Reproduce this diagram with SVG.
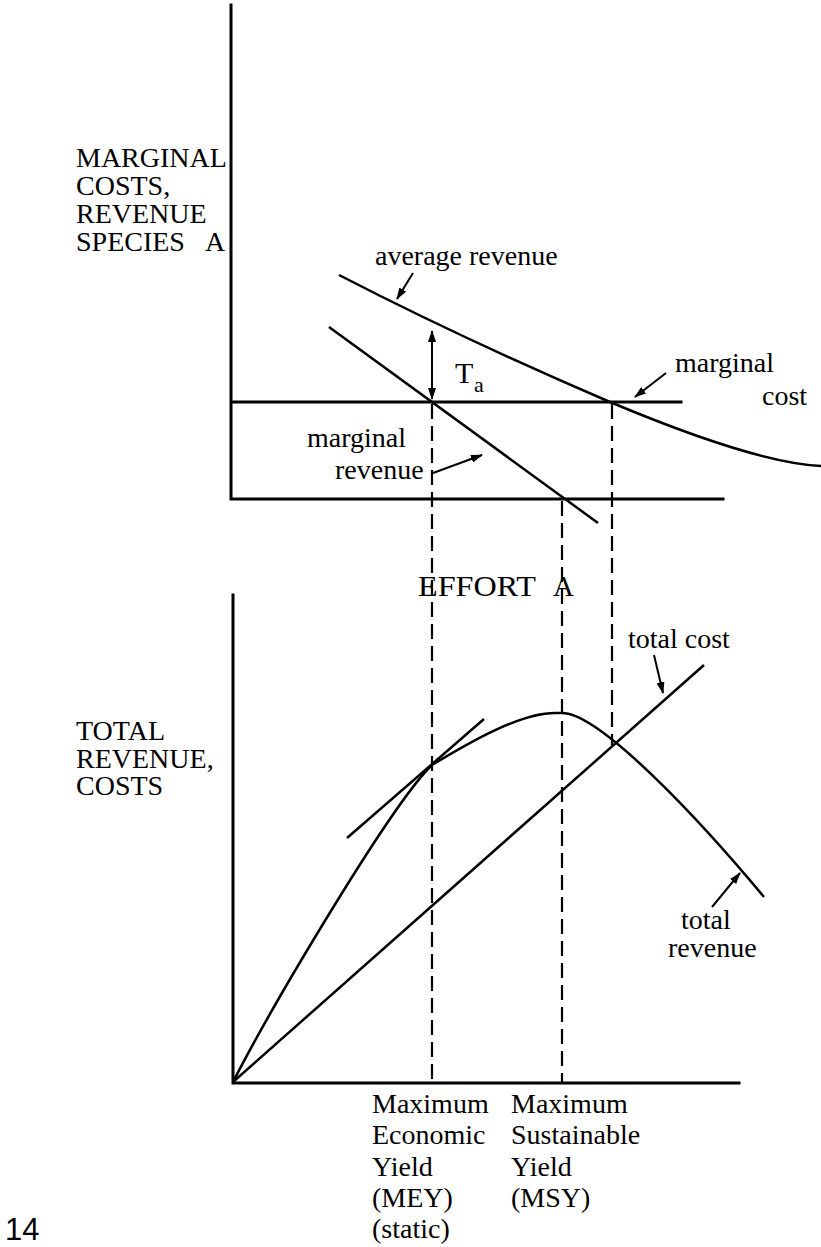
<svg xmlns="http://www.w3.org/2000/svg" width="821" height="1247" viewBox="0 0 821 1247">
  <style>
    .ax { stroke: #000; stroke-width: 3; fill: none; stroke-linecap: square; }
    .cv { stroke: #000; stroke-width: 2.5; fill: none; stroke-linejoin: round; }
    .ds { stroke: #000; stroke-width: 2.2; fill: none; stroke-dasharray: 15 7; }
    .ar { stroke: #000; stroke-width: 2; fill: none; marker-end: url(#ah); }
    .t { font-family: "Liberation Serif", "Times New Roman", serif; font-size: 28px; fill: #000; }
    .s { font-family: "Liberation Sans", Arial, sans-serif; font-size: 31px; fill: #000; }
  </style>
  <defs>
    <marker id="ah" viewBox="0 0 12 8" refX="11" refY="4" markerWidth="12" markerHeight="8" markerUnits="userSpaceOnUse" orient="auto-start-reverse">
      <path d="M0,0 L12,4 L0,8 z" fill="#000"/>
    </marker>
  </defs>
  <rect width="821" height="1247" fill="#fff"/>

  <g id="top-graph">
    <path class="ax" d="M231,5 V499 H723"/>
    <line class="ax" x1="232" y1="402" x2="681" y2="402"/>
    <path id="average-revenue" class="cv" d="M339,275 C430,322 540,372 610,402 C660,423 760,463 821,466"/>
    <line id="marginal-revenue" class="cv" x1="329" y1="327" x2="598" y2="523"/>
    <line id="tax-arrow" class="ar" x1="432" y1="331" x2="432" y2="399" style="marker-start:url(#ah)"/>
  </g>

  <g id="bottom-graph">
    <path class="ax" d="M233,595 V1083 H739"/>
    <line id="total-cost" class="cv" x1="233" y1="1082" x2="704" y2="665"/>
    <path id="total-revenue" class="cv" d="M233,1082 C273,1004 392,803 432,765 C470,742 520,713 555,713 L562,713 C600,713 700,820 764,897"/>
    <line id="tangent" class="cv" x1="347" y1="838" x2="484" y2="719"/>
  </g>

  <g id="connectors">
    <line class="ds" x1="432" y1="404" x2="432" y2="1082"/>
    <line class="ds" x1="562" y1="501" x2="562" y2="1082"/>
    <line class="ds" x1="612" y1="404" x2="612" y2="745"/>
    <line class="ar" x1="413" y1="273" x2="397" y2="299"/>
    <line class="ar" x1="666" y1="373" x2="635" y2="397"/>
    <line class="ar" x1="433" y1="473" x2="482" y2="455"/>
    <line class="ar" x1="654" y1="655" x2="663" y2="693"/>
    <line class="ar" x1="712" y1="907" x2="740" y2="873"/>
  </g>

  <g id="labels">
    <text class="t" x="76" y="167">MARGINAL</text>
    <text class="t" x="76" y="195">COSTS,</text>
    <text class="t" x="76" y="223">REVENUE</text>
    <text class="t" x="76" y="251">SPECIES<tspan x="205">A</tspan></text>
    <text class="t" x="76" y="740">TOTAL</text>
    <text class="t" x="76" y="768">REVENUE,</text>
    <text class="t" x="76" y="795">COSTS</text>
    <text class="t" x="375" y="265">average revenue</text>
    <text class="t" x="675" y="372">marginal</text>
    <text class="t" x="762" y="405">cost</text>
    <text class="t" x="455" y="383" style="font-size:30px">T<tspan x="474" y="392" style="font-size:22px">a</tspan></text>
    <text class="t" x="307" y="447">marginal</text>
    <text class="t" x="335" y="479">revenue</text>
    <text class="t" x="418" y="596" style="font-size:29px"><tspan textLength="118" lengthAdjust="spacingAndGlyphs">EFFORT</tspan><tspan x="553">A</tspan></text>
    <text class="t" x="628" y="648">total cost</text>
    <text class="t" x="681" y="929">total</text>
    <text class="t" x="668" y="957">revenue</text>
    <text class="t" x="372" y="1113">Maximum</text>
    <text class="t" x="372" y="1144">Economic</text>
    <text class="t" x="372" y="1176">Yield</text>
    <text class="t" x="372" y="1207">(MEY)</text>
    <text class="t" x="372" y="1238">(static)</text>
    <text class="t" x="511" y="1113">Maximum</text>
    <text class="t" x="511" y="1144">Sustainable</text>
    <text class="t" x="511" y="1176">Yield</text>
    <text class="t" x="511" y="1207">(MSY)</text>
    <text class="s" x="5" y="1240">14</text>
  </g>
</svg>
